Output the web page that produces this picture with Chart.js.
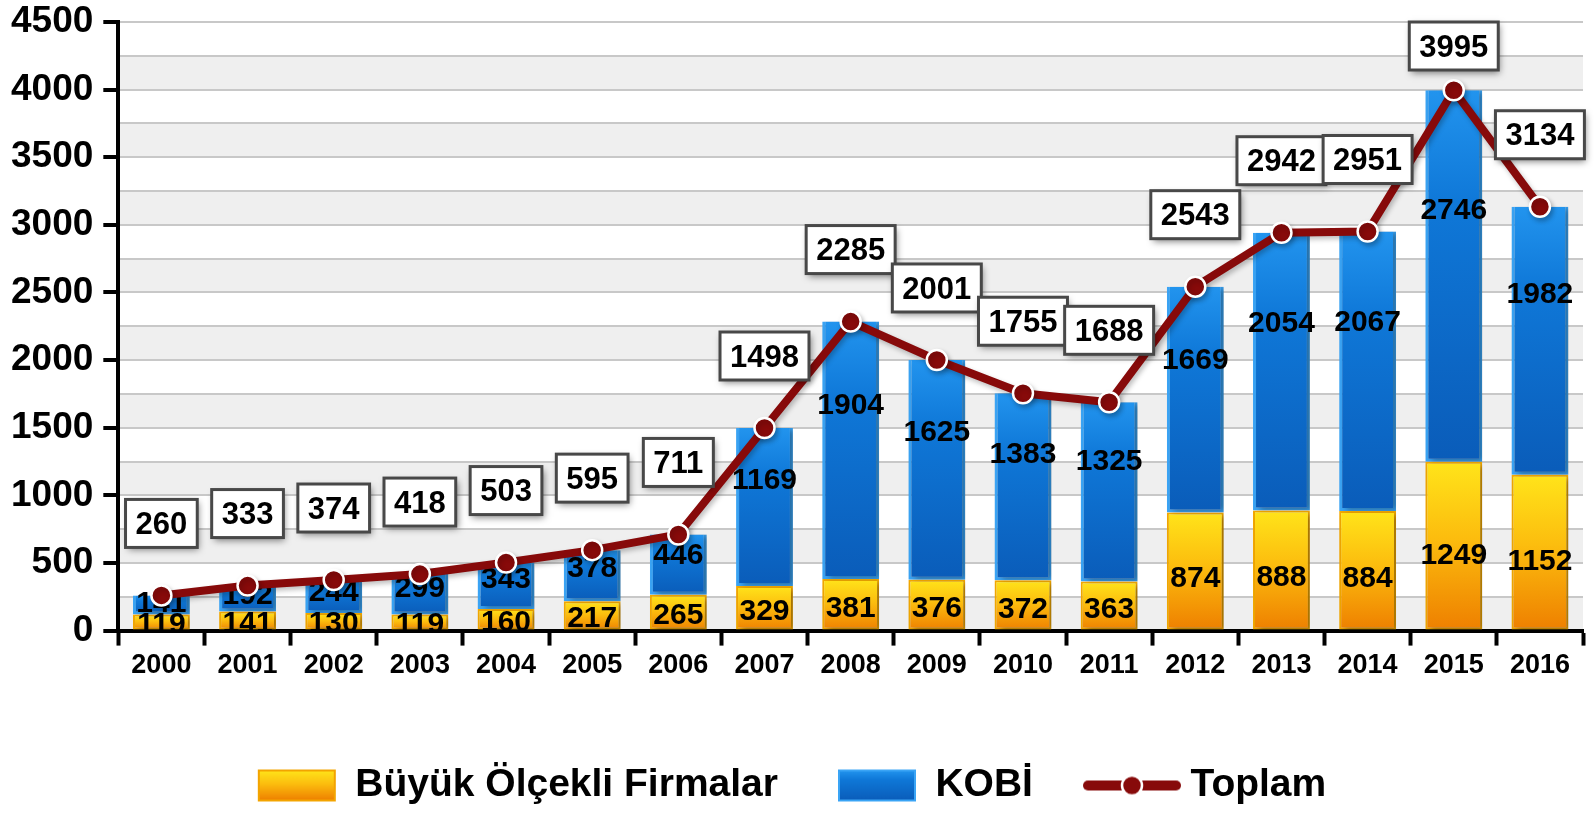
<!DOCTYPE html>
<html>
<head>
<meta charset="utf-8">
<script src="https://cdn.jsdelivr.net/npm/chart.js@4.4.1/dist/chart.umd.min.js"></script>
<style>
  html, body { margin: 0; padding: 0; background: #fff; }
  #wrap { width: 1596px; height: 815px; }
</style>
</head>
<body>
<div id="wrap"><canvas id="patentChart" width="1596" height="815"></canvas></div>
<script>
const years = ['2000', '2001', '2002', '2003', '2004', '2005', '2006', '2007', '2008',
               '2009', '2010', '2011', '2012', '2013', '2014', '2015', '2016'];
const buyukFirmalar = [119, 141, 130, 119, 160, 217, 265, 329, 381, 376, 372, 363, 874, 888, 884, 1249, 1152];
const kobi = [141, 192, 244, 299, 343, 378, 446, 1169, 1904, 1625, 1383, 1325, 1669, 2054, 2067, 2746, 1982];
const toplam = [260, 333, 374, 418, 503, 595, 711, 1498, 2285, 2001, 1755, 1688, 2543, 2942, 2951, 3995, 3134];
const yTickLabels = [0, 500, 1000, 1500, 2000, 2500, 3000, 3500, 4000, 4500];

const FONT = '"Liberation Sans", Arial, sans-serif';
const YELLOW = [[0, '#ffe41a'], [0.45, '#fcbd0e'], [1, '#ee7f00']];
const BLUE = [[0, '#2294ee'], [0.3, '#0f78d8'], [1, '#0a5cb9']];
const RED = '#870a0a';

function gradientFor(chart, from, to, stops) {
  const y = chart.scales.y;
  if (!chart.chartArea || !y) return stops[1][1];
  const g = chart.ctx.createLinearGradient(0, y.getPixelForValue(to), 0, y.getPixelForValue(from));
  stops.forEach(s => g.addColorStop(s[0], s[1]));
  return g;
}

// legend swatches
function swatch(stops, edge) {
  const c = document.createElement('canvas');
  c.width = 80; c.height = 34;
  const x = c.getContext('2d');
  const g = x.createLinearGradient(0, 2, 0, 32);
  stops.forEach(s => g.addColorStop(s[0], s[1]));
  x.fillStyle = g;
  x.fillRect(2, 2, 76, 30);
  x.strokeStyle = edge;
  x.lineWidth = 2;
  x.strokeRect(2, 2, 76, 30);
  return c;
}
function lineSwatch() {
  const c = document.createElement('canvas');
  c.width = 100; c.height = 30;
  const x = c.getContext('2d');
  x.strokeStyle = RED;
  x.lineWidth = 10;
  x.lineCap = 'round';
  x.beginPath(); x.moveTo(6, 15); x.lineTo(94, 15); x.stroke();
  x.beginPath(); x.arc(50, 15, 10, 0, Math.PI * 2);
  x.fillStyle = RED; x.fill();
  x.lineWidth = 2.5; x.strokeStyle = '#fff'; x.stroke();
  return c;
}
const legendIcons = [swatch(YELLOW, '#f3a400'), swatch(BLUE, '#3aa4f5'), lineSwatch()];

// alternating grey bands behind the grid
const bands = {
  id: 'bands',
  beforeDraw(chart) {
    const {ctx, chartArea: a, scales: {y}} = chart;
    ctx.save();
    ctx.fillStyle = '#efefef';
    yTickLabels.forEach(v => {
      if (v >= y.max) return;
      const top = y.getPixelForValue(v + 250), bot = y.getPixelForValue(v);
      ctx.fillRect(a.left, top, a.right - a.left, bot - top);
    });
    ctx.restore();
  }
};

// shadows for bars and line
const shadows = {
  id: 'shadows',
  beforeDatasetDraw(chart, args) {
    const ctx = chart.ctx;
    if (args.meta.type !== 'bar') drawInnerLabels(chart);
    ctx.save();
    if (args.meta.type === 'bar') {
      ctx.shadowColor = 'rgba(0,0,0,0.35)';
      ctx.shadowBlur = 6;
      ctx.shadowOffsetX = 4;
      ctx.shadowOffsetY = 2;
    } else {
      ctx.shadowColor = 'rgba(0,0,0,0.25)';
      ctx.shadowBlur = 5;
      ctx.shadowOffsetX = 2;
      ctx.shadowOffsetY = 3;
    }
  },
  afterDatasetDraw(chart) {
    chart.ctx.restore();
  }
};

function drawInnerLabels(chart) {
  const ctx = chart.ctx;
  ctx.save();
  ctx.font = 'bold 30px ' + FONT;
  ctx.fillStyle = '#000';
  ctx.textAlign = 'center';
  ctx.textBaseline = 'middle';
  [0, 1].forEach(di => {
    const values = di === 0 ? buyukFirmalar : kobi;
    const k = di === 0 ? 0.55 : 0.32;   // share of the segment height, measured from its top
    chart.getDatasetMeta(di).data.forEach((bar, i) => {
      const p = bar.getProps(['x', 'y', 'base'], true);
      ctx.fillText(String(values[i]), p.x, p.y + (p.base - p.y) * k + 2);
    });
  });
  ctx.restore();
}

// boxed total labels above the line
const totalBoxes = {
  id: 'totalBoxes',
  afterDatasetsDraw(chart) {
    const ctx = chart.ctx;
    const meta = chart.getDatasetMeta(2);
    ctx.save();
    ctx.font = 'bold 31px ' + FONT;
    ctx.textAlign = 'center';
    ctx.textBaseline = 'middle';
    meta.data.forEach((pt, i) => {
      const text = String(toplam[i]);
      const w = ctx.measureText(text).width + 20;
      const h = 48;
      const cx = pt.x;
      const cy = Math.max(pt.y - 72, chart.chartArea.top + h / 2);
      ctx.save();
      ctx.shadowColor = 'rgba(0,0,0,0.5)';
      ctx.shadowBlur = 7;
      ctx.shadowOffsetX = 2;
      ctx.shadowOffsetY = 3;
      ctx.fillStyle = '#fff';
      ctx.fillRect(cx - w / 2, cy - h / 2, w, h);
      ctx.restore();
      ctx.strokeStyle = '#484848';
      ctx.lineWidth = 3;
      ctx.strokeRect(cx - w / 2, cy - h / 2, w, h);
      ctx.fillStyle = '#000';
      ctx.fillText(text, cx, cy + 2);
    });
    ctx.restore();
  }
};

new Chart(document.getElementById('patentChart'), {
  type: 'bar',
  data: {
    labels: years,
    datasets: [
      {
        label: 'Büyük Ölçekli Firmalar',
        data: buyukFirmalar,
        stack: 'firms',
        order: 1,
        backgroundColor: c => gradientFor(c.chart, 0, buyukFirmalar[c.dataIndex], YELLOW),
        borderColor: '#f3a800',
        borderWidth: 2,
        borderSkipped: false,
        barPercentage: 0.66,
        categoryPercentage: 1
      },
      {
        label: 'KOBİ',
        data: kobi,
        stack: 'firms',
        order: 1,
        backgroundColor: c => gradientFor(c.chart, buyukFirmalar[c.dataIndex], toplam[c.dataIndex], BLUE),
        borderColor: '#3aa4f5',
        borderWidth: {left: 3, right: 3, bottom: 3, top: 0},
        borderSkipped: false,
        barPercentage: 0.66,
        categoryPercentage: 1
      },
      {
        type: 'line',
        label: 'Toplam',
        data: toplam,
        stack: 'total',
        order: 0,
        borderColor: RED,
        borderWidth: 8,
        tension: 0,
        pointRadius: 10,
        pointBackgroundColor: RED,
        pointBorderColor: '#fff',
        pointBorderWidth: 2.5
      }
    ]
  },
  options: {
    responsive: false,
    animation: false,
    layout: { padding: { top: 22, right: 13, left: 1, bottom: 0 } },
    plugins: {
      tooltip: { enabled: false },
      legend: {
        position: 'bottom',
        labels: {
          usePointStyle: true,
          pointStyleWidth: 78,
          padding: 60,
          color: '#000',
          font: { family: FONT, size: 39, weight: 'bold' },
          generateLabels: chart => chart.data.datasets.map((ds, i) => ({
            text: ds.label,
            pointStyle: legendIcons[i],
            fillStyle: 'transparent',
            strokeStyle: 'transparent',
            lineWidth: 0,
            hidden: false,
            datasetIndex: i
          }))
        }
      }
    },
    scales: {
      x: {
        stacked: true,
        border: { color: '#000', width: 4 },
        grid: { display: true, drawOnChartArea: false, offset: true, tickLength: 15, tickWidth: 4, tickColor: '#000' },
        ticks: { color: '#000', padding: 4, font: { family: FONT, size: 27, weight: 'bold' } },
        afterFit: s => { s.height += 20; }
      },
      y: {
        stacked: true,
        min: 0,
        max: 4500,
        border: { color: '#000', width: 4 },
        grid: {
          color: '#c8c8c8',
          lineWidth: 2,
          tickLength: 15,
          tickWidth: 4,
          tickColor: c => (c.tick && yTickLabels.includes(c.tick.value)) ? '#000' : 'rgba(0,0,0,0)'
        },
        ticks: {
          stepSize: 250,
          autoSkip: false,
          padding: 10,
          color: '#000',
          font: { family: FONT, size: 37, weight: 'bold' },
          callback: v => yTickLabels.includes(v) ? String(v) : ''
        },
        afterFit: s => { s.paddingTop = 0; }
      }
    }
  },
  plugins: [bands, shadows, totalBoxes]
});
</script>
</body>
</html>
